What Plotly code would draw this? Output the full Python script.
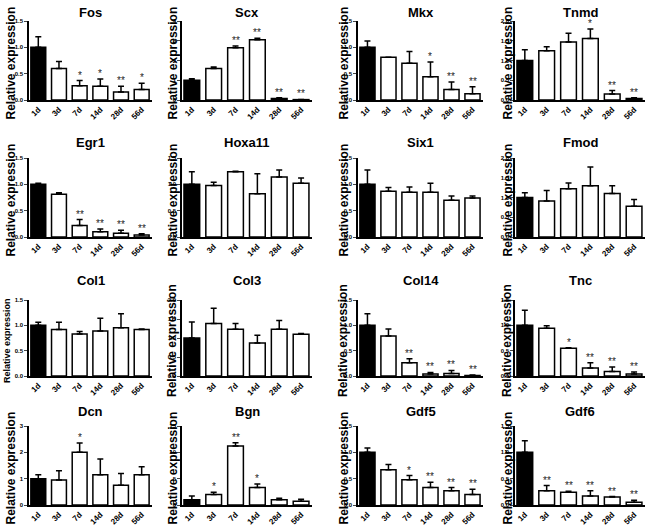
import plotly.graph_objects as go
from plotly.subplots import make_subplots

W, H = 651, 531

days = ["1d", "3d", "7d", "14d", "28d", "56d"]

genes = ["Fos", "Scx", "Mkx", "Tnmd",
         "Egr1", "Hoxa11", "Six1", "Fmod",
         "Col1", "Col3", "Col14", "Tnc",
         "Dcn", "Bgn", "Gdf5", "Gdf6"]

fos_mean = [1.0, 0.6, 0.27, 0.26, 0.15, 0.2]
fos_err = [0.2, 0.13, 0.1, 0.14, 0.11, 0.12]
fos_sig = ["", "", "*", "*", "**", "*"]

scx_mean = [1.0, 1.6, 2.65, 3.05, 0.08, 0.02]
scx_err = [0.08, 0.07, 0.08, 0.08, 0.03, 0.01]
scx_sig = ["", "", "**", "**", "**", "**"]

mkx_mean = [1.0, 0.81, 0.7, 0.44, 0.2, 0.12]
mkx_err = [0.12, 0.0, 0.22, 0.28, 0.14, 0.13]
mkx_sig = ["", "", "", "*", "**", "**"]

tnmd_mean = [1.0, 1.25, 1.47, 1.56, 0.15, 0.04]
tnmd_err = [0.27, 0.1, 0.22, 0.24, 0.09, 0.02]
tnmd_sig = ["", "", "", "*", "**", "**"]

egr1_mean = [1.0, 0.81, 0.22, 0.1, 0.07, 0.04]
egr1_err = [0.02, 0.03, 0.11, 0.05, 0.06, 0.02]
egr1_sig = ["", "", "**", "**", "**", "**"]

hoxa11_mean = [1.0, 0.98, 1.24, 0.82, 1.14, 1.02]
hoxa11_err = [0.24, 0.06, 0.01, 0.38, 0.13, 0.1]

six1_mean = [1.0, 0.87, 0.85, 0.85, 0.7, 0.74]
six1_err = [0.27, 0.07, 0.1, 0.17, 0.08, 0.04]

fmod_mean = [1.0, 0.91, 1.22, 1.3, 1.1, 0.78]
fmod_err = [0.12, 0.27, 0.15, 0.47, 0.2, 0.17]

col1_mean = [1.0, 0.92, 0.83, 0.89, 0.95, 0.92]
col1_err = [0.06, 0.14, 0.05, 0.25, 0.28, 0.01]

col3_mean = [1.0, 1.38, 1.23, 0.87, 1.23, 1.1]
col3_err = [0.42, 0.4, 0.15, 0.2, 0.23, 0.02]

col14_mean = [1.0, 0.79, 0.26, 0.04, 0.05, 0.01]
col14_err = [0.23, 0.14, 0.08, 0.03, 0.06, 0.01]
col14_sig = ["", "", "**", "**", "**", "**"]

tnc_mean = [1.0, 0.94, 0.55, 0.16, 0.09, 0.04]
tnc_err = [0.3, 0.05, 0.01, 0.1, 0.09, 0.04]
tnc_sig = ["", "", "*", "**", "**", "**"]

dcn_mean = [1.0, 0.95, 2.0, 1.15, 0.75, 1.15]
dcn_err = [0.15, 0.35, 0.35, 0.6, 0.45, 0.3]
dcn_sig = ["", "", "*", "", "", ""]

bgn_mean = [1.0, 2.0, 11.2, 3.3, 1.0, 0.7]
bgn_err = [0.7, 0.4, 0.6, 0.7, 0.3, 0.4]
bgn_sig = ["", "*", "**", "*", "", ""]

gdf5_mean = [1.0, 0.67, 0.48, 0.33, 0.27, 0.2]
gdf5_err = [0.08, 0.1, 0.08, 0.1, 0.06, 0.1]
gdf5_sig = ["", "", "*", "**", "**", "**"]

gdf6_mean = [1.0, 0.27, 0.24, 0.17, 0.15, 0.05]
gdf6_err = [0.22, 0.1, 0.02, 0.1, 0.01, 0.04]
gdf6_sig = ["", "**", "**", "**", "**", "**"]

no_sig = [""] * 6

panels = [
    (fos_mean, fos_err, fos_sig, 1.5, 0.5),
    (scx_mean, scx_err, scx_sig, 4, 1),
    (mkx_mean, mkx_err, mkx_sig, 1.5, 0.5),
    (tnmd_mean, tnmd_err, tnmd_sig, 2.0, 0.5),
    (egr1_mean, egr1_err, egr1_sig, 1.5, 0.5),
    (hoxa11_mean, hoxa11_err, no_sig, 1.5, 0.5),
    (six1_mean, six1_err, no_sig, 1.5, 0.5),
    (fmod_mean, fmod_err, no_sig, 2.0, 0.5),
    (col1_mean, col1_err, no_sig, 1.5, 0.5),
    (col3_mean, col3_err, no_sig, 2.0, 0.5),
    (col14_mean, col14_err, col14_sig, 1.5, 0.5),
    (tnc_mean, tnc_err, tnc_sig, 1.5, 0.5),
    (dcn_mean, dcn_err, dcn_sig, 3, 1),
    (bgn_mean, bgn_err, bgn_sig, 15, 5),
    (gdf5_mean, gdf5_err, gdf5_sig, 1.5, 0.5),
    (gdf6_mean, gdf6_err, gdf6_sig, 1.5, 0.5),
]

# -----------------------------------
# Panel geometry (pixels)
# -----------------------------------

col_x = [(29, 152), (182, 312), (358, 483), (515, 645)]
row_y = [(21, 100), (158, 237), (300, 376), (426, 505)]
label_x = [10, 172, 343, 507]
title_y = [12, 143, 280, 411]

FONT = "Arial, Liberation Sans, sans-serif"


def px_x(p):
    return p / W


def px_y(p):
    return 1 - p / H


fig = make_subplots(rows=4, cols=4)

for i, (mean, err, sig, ymax, dtick) in enumerate(panels):
    r, c = divmod(i, 4)
    n = i + 1
    xs = "" if n == 1 else str(n)

    fig.add_trace(
        go.Bar(
            x=days,
            y=mean,
            width=0.72,
            marker=dict(
                color=["black"] + ["white"] * 5,
                line=dict(color="black", width=1.5),
            ),
            error_y=dict(
                type="data",
                symmetric=False,
                array=err,
                arrayminus=[0] * 6,
                color="black",
                thickness=1.5,
                width=3,
            ),
            showlegend=False,
        ),
        row=r + 1, col=c + 1,
    )

    for d, m, e, s in zip(days, mean, err, sig):
        if s:
            fig.add_annotation(
                x=d, y=m + e, xref=f"x{xs}", yref=f"y{xs}",
                text=s, showarrow=False, yanchor="bottom", yshift=-2,
                font=dict(family=FONT, size=10, color="#222"),
            )

    x0, x1 = col_x[c]
    y0, y1 = row_y[r]
    tickfmt = ".1f" if dtick < 1 else "d"

    fig.update_layout({
        f"xaxis{xs}": dict(
            domain=[px_x(x0), px_x(x1)],
            range=[-0.45, 5.5],
            automargin=False,
            showline=True, linecolor="black", linewidth=1.5,
            ticks="", tickangle=-45,
            tickfont=dict(family=FONT, size=8, color="black", weight="bold"),
            showgrid=False, zeroline=False,
        ),
        f"yaxis{xs}": dict(
            domain=[px_y(y1), px_y(y0)],
            range=[0, ymax],
            dtick=dtick,
            tickformat=tickfmt,
            automargin=False,
            showline=True, linecolor="black", linewidth=1.5,
            ticks="outside", ticklen=3, tickwidth=1,
            tickfont=dict(family=FONT, size=6, color="black", weight="bold"),
            showgrid=False, zeroline=False,
        ),
    })

    fig.add_annotation(
        x=px_x((x0 + x1) / 2), y=px_y(title_y[r]),
        xref="paper", yref="paper", xanchor="center", yanchor="middle",
        text=f"<b>{genes[i]}</b>", showarrow=False,
        font=dict(family=FONT, size=13, color="black"),
    )

    small = genes[i] == "Col1"
    fig.add_annotation(
        x=px_x(7 if small else label_x[c]), y=px_y((y0 + y1) / 2 + 3),
        xref="paper", yref="paper", xanchor="center", yanchor="middle",
        text="<b>Relative expression</b>", showarrow=False,
        textangle=-90,
        font=dict(family=FONT, size=9 if small else 12, color="black"),
    )

fig.update_layout(
    width=W,
    height=H,
    margin=dict(l=0, r=0, t=0, b=0),
    plot_bgcolor="white",
    paper_bgcolor="white",
)

# the page body has a default 8px margin; drop it so the figure fills the window
fig.write_html(
    "out.html",
    config={"displayModeBar": False},
    post_script="document.body.style.margin='0';",
)
